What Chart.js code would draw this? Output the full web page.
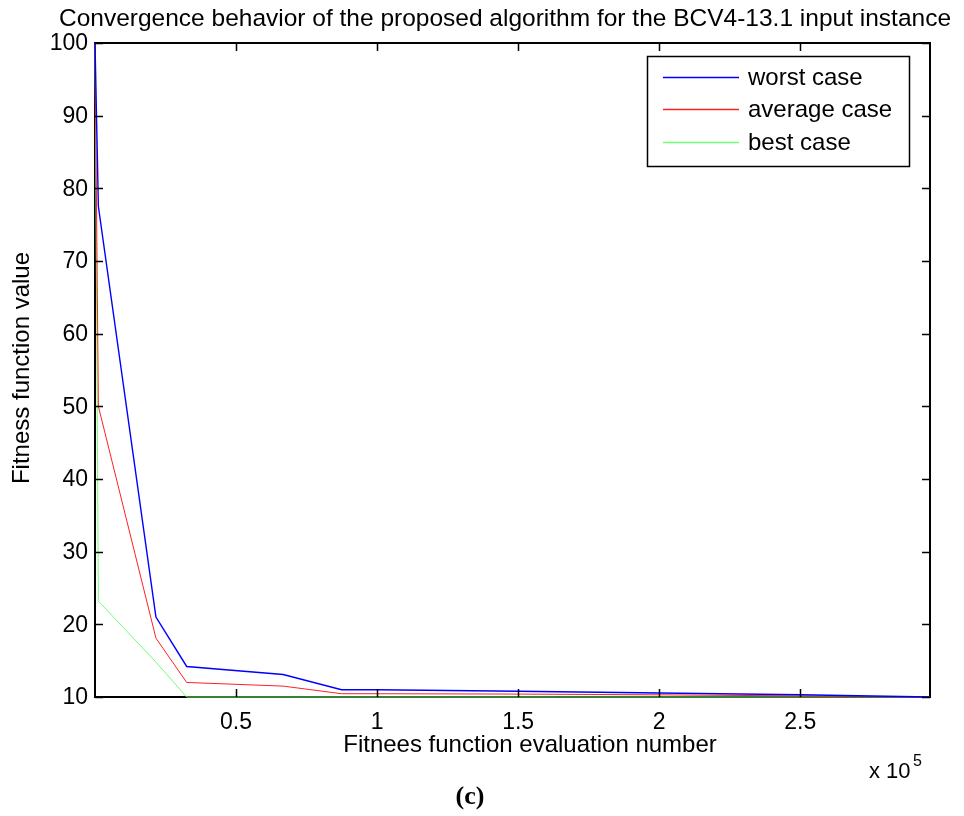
<!DOCTYPE html>
<html><head><meta charset="utf-8">
<script src="https://cdn.jsdelivr.net/npm/chart.js@4/dist/chart.umd.min.js"></script>
<style>html,body{margin:0;padding:0;background:#fff}#wrap{width:964px;height:816px}</style>
</head><body><div id="wrap"><canvas id="c" width="964" height="816"></canvas></div>
<script>
// ---- data (x in units of 1e5 evaluations) ----
const worstX   = [0, 0.012, 0.216, 0.325, 0.667, 0.874, 1.0, 1.5, 2.0, 2.5, 2.96];
const worstY   = [100, 77.5, 21.0, 14.2, 13.1, 11.0, 11.0, 10.8, 10.55, 10.3, 10.0];
const avgX     = [0, 0.012, 0.216, 0.325, 0.667, 0.874, 1.0, 1.5, 2.0, 2.5, 2.96];
const avgY     = [100, 50.0, 18.1, 12.0, 11.5, 10.45, 10.45, 10.4, 10.3, 10.15, 10.0];
const bestX    = [0, 0.012, 0.216, 0.325, 2.96];
const bestY    = [100, 23.2, 14.8, 10.0, 10.0];
const xTicks   = [0.5, 1, 1.5, 2, 2.5];
const xTickLabels = ['0.5', '1', '1.5', '2', '2.5'];
const yTicks   = [10, 20, 30, 40, 50, 60, 70, 80, 90, 100];
const seriesNames = ['worst case', 'average case', 'best case'];
const titleText = 'Convergence behavior of the proposed algorithm for the BCV4-13.1 input instance';
const xLabel = 'Fitnees function evaluation number';
const yLabel = 'Fitness function value';

const pts = (xs, ys) => xs.map((x, i) => ({x: x, y: ys[i]}));
const colors = ['#0000ff', '#ff2020', '#70ff70'];
const widths = [1.4, 1, 1];

const matlab = {
  id: 'matlab',
  beforeDatasetsDraw(chart) {
    const ctx = chart.ctx, a = chart.chartArea;
    ctx.save();
    ctx.strokeStyle = '#000';
    ctx.lineWidth = 2;
    ctx.strokeRect(a.left, a.top, a.right - a.left, a.bottom - a.top);
    ctx.restore();
  },
  afterDatasetsDraw(chart) {
    const ctx = chart.ctx, a = chart.chartArea;
    const xs = chart.scales.x, ys = chart.scales.y;
    ctx.save();
    ctx.setLineDash([]);
    ctx.strokeStyle = '#000';
    ctx.fillStyle = '#000';
    ctx.lineWidth = 1.5;
    const tl = 8;
    // ticks
    ctx.beginPath();
    xTicks.forEach(v => {
      const px = Math.round(xs.getPixelForValue(v)) + 0.5;
      ctx.moveTo(px, a.bottom); ctx.lineTo(px, a.bottom - tl);
      ctx.moveTo(px, a.top); ctx.lineTo(px, a.top + tl);
    });
    yTicks.forEach(v => {
      const py = Math.round(ys.getPixelForValue(v)) + 0.5;
      ctx.moveTo(a.left, py); ctx.lineTo(a.left + tl, py);
      ctx.moveTo(a.right, py); ctx.lineTo(a.right - tl, py);
    });
    ctx.stroke();
    // tick labels
    ctx.font = '23px "Liberation Sans", Arial, sans-serif';
    ctx.textAlign = 'center'; ctx.textBaseline = 'middle';
    xTicks.forEach((v, i) => {
      ctx.fillText(xTickLabels[i], xs.getPixelForValue(v), a.bottom + 26);
    });
    ctx.textAlign = 'right';
    yTicks.forEach(v => {
      ctx.fillText(String(v), a.left - 7, ys.getPixelForValue(v) + 1);
    });
    // title
    ctx.font = '24.5px "Liberation Sans", Arial, sans-serif';
    ctx.textAlign = 'center'; ctx.textBaseline = 'alphabetic';
    ctx.fillText(titleText, 505, 26);
    // axis labels
    ctx.font = '24px "Liberation Sans", Arial, sans-serif';
    ctx.textBaseline = 'middle';
    ctx.fillText(xLabel, 530, 745);
    ctx.save();
    ctx.translate(22, 368);
    ctx.rotate(-Math.PI / 2);
    ctx.fillText(yLabel, 0, 0);
    ctx.restore();
    // exponent
    ctx.textAlign = 'left'; ctx.textBaseline = 'alphabetic';
    ctx.font = '22px "Liberation Sans", Arial, sans-serif';
    ctx.fillText('x 10', 869, 778);
    ctx.font = '16px "Liberation Sans", Arial, sans-serif';
    ctx.fillText('5', 913, 766);
    // (c)
    ctx.font = 'bold 26px "Liberation Serif", "Times New Roman", serif';
    ctx.textAlign = 'center'; ctx.textBaseline = 'middle';
    ctx.fillText('(c)', 470, 797);
    // legend
    const lx = 647, ly = 56, lw = 262, lh = 110;
    ctx.fillStyle = '#ffffff';
    ctx.fillRect(lx, ly, lw, lh);
    ctx.lineWidth = 1.5;
    ctx.strokeStyle = '#000000';
    ctx.strokeRect(lx + 0.5, ly + 0.5, lw, lh);
    const rows = [77, 109, 142];
    for (let i = 0; i < seriesNames.length; i++) {
      ctx.beginPath();
      ctx.lineWidth = 1.4;
      ctx.strokeStyle = colors[i];
      ctx.moveTo(663, rows[i] + 0.5);
      ctx.lineTo(739, rows[i] + 0.5);
      ctx.stroke();
      ctx.closePath();
    }
    ctx.fillStyle = '#000000';
    ctx.font = '24px "Liberation Sans", Arial, sans-serif';
    ctx.textAlign = 'left'; ctx.textBaseline = 'middle';
    seriesNames.forEach((n, i) => ctx.fillText(n, 748, rows[i] + 1));
    ctx.restore();
  }
};

new Chart(document.getElementById('c'), {
  type: 'line',
  data: {
    datasets: [
      {label: seriesNames[0], data: pts(worstX, worstY), borderColor: colors[0], borderWidth: widths[0]},
      {label: seriesNames[1], data: pts(avgX, avgY), borderColor: colors[1], borderWidth: widths[1]},
      {label: seriesNames[2], data: pts(bestX, bestY), borderColor: colors[2], borderWidth: widths[2]}
    ].map(d => Object.assign(d, {pointRadius: 0, tension: 0, fill: false, clip: 3}))
  },
  options: {
    responsive: false,
    devicePixelRatio: 1,
    animation: false,
    layout: {padding: {left: 95, right: 34, top: 43, bottom: 119}},
    plugins: {legend: {display: false}, title: {display: false}, tooltip: {enabled: false}},
    scales: {
      x: {type: 'linear', min: 0, max: 2.96, display: false},
      y: {type: 'linear', min: 10, max: 100, display: false}
    }
  },
  plugins: [matlab]
});
</script>
</body></html>
